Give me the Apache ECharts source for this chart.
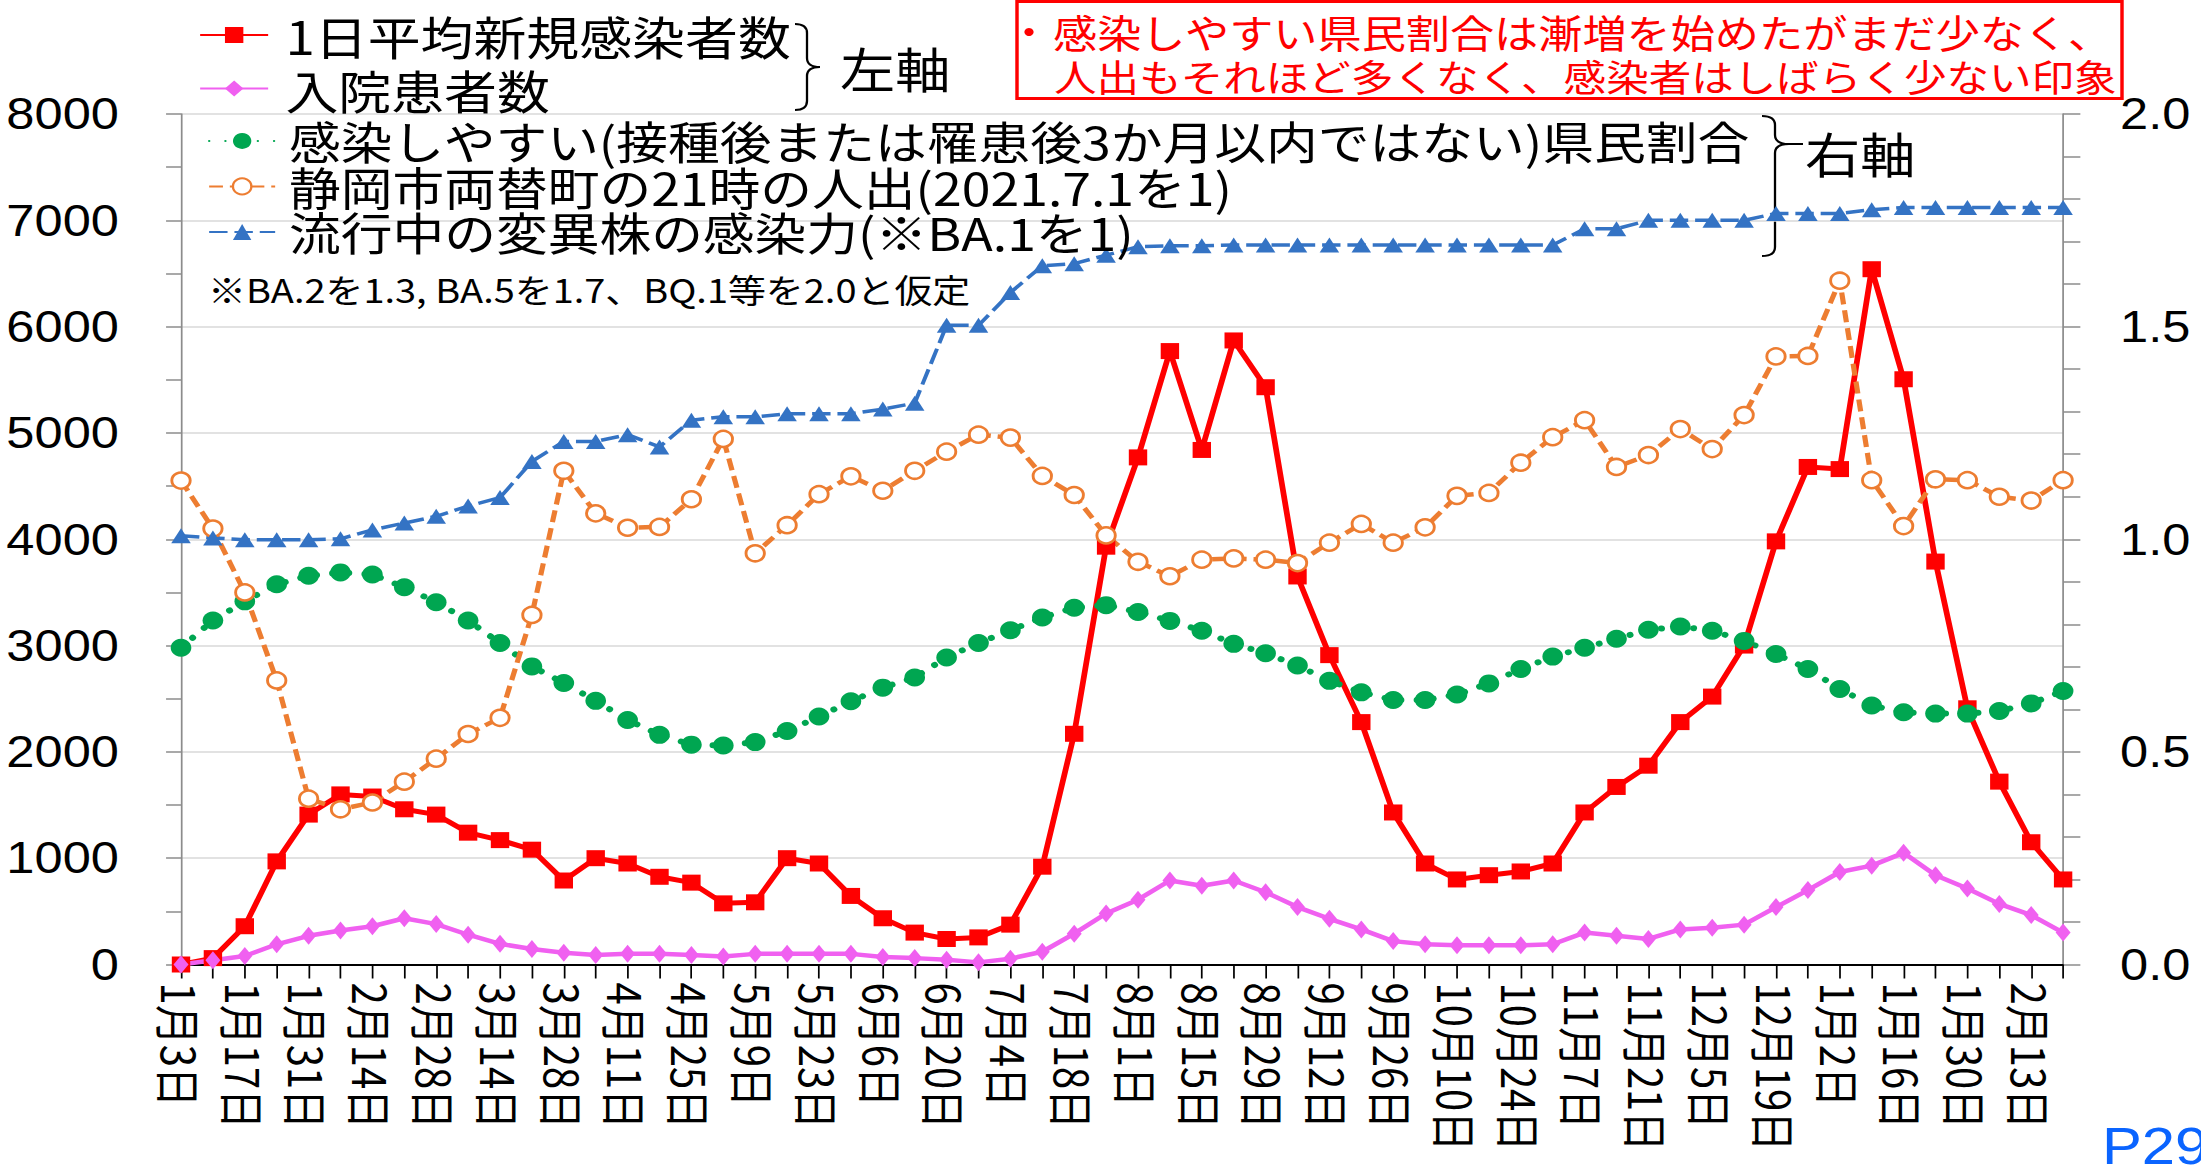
<!DOCTYPE html>
<html>
<head>
<meta charset="utf-8">
<script src="https://cdn.jsdelivr.net/npm/echarts@6/dist/echarts.min.js"></script>
<style>
html, body { margin: 0; padding: 0; background: #fff; overflow: hidden; }
/* the source picture is stretched a little horizontally, so the chart is drawn narrower and scaled */
#chart { width: 1914px; height: 1168px; transform: scaleX(1.15); transform-origin: 0 0; }
</style>
</head>
<body>
<div id="chart"></div>
<script>
const SX = 1.15

const weeks = [
  '1月3日','1月10日','1月17日','1月24日','1月31日','2月7日','2月14日','2月21日','2月28日','3月7日',
  '3月14日','3月21日','3月28日','4月4日','4月11日','4月18日','4月25日','5月2日','5月9日','5月16日',
  '5月23日','5月30日','6月6日','6月13日','6月20日','6月27日','7月4日','7月11日','7月18日','7月25日',
  '8月1日','8月8日','8月15日','8月22日','8月29日','9月5日','9月12日','9月19日','9月26日','10月3日',
  '10月10日','10月17日','10月24日','10月31日','11月7日','11月14日','11月21日','11月28日','12月5日','12月12日',
  '12月19日','12月26日','1月2日','1月9日','1月16日','1月23日','1月30日','2月6日','2月13日','2月20日'
]

// 左軸
const newCases = [
  0, 60, 360, 970, 1410, 1600, 1580, 1460, 1410, 1240,
  1170, 1080, 790, 1000, 950, 825, 770, 575, 585, 1000,
  950, 645, 435, 300, 240, 255, 375, 920, 2170, 3930,
  4770, 5770, 4840, 5870, 5430, 3650, 2910, 2280, 1430, 950,
  800, 840, 875, 950, 1430, 1670, 1870, 2280, 2520, 3000,
  3980, 4680, 4660, 6540, 5505, 3790, 2410, 1720, 1150, 800
]
const hospitalized = [
  0, 40, 80, 190, 270, 320, 360, 435, 380, 280,
  195, 145, 110, 90, 100, 100, 90, 75, 100, 100,
  100, 100, 70, 60, 45, 20, 55, 120, 290, 480,
  610, 790, 740, 790, 680, 540, 430, 330, 220, 190,
  180, 180, 180, 190, 300, 270, 240, 330, 345, 375,
  540, 700, 870, 930, 1050, 840, 715, 570, 465, 300
]

// 右軸
const susceptible = [
  0.745, 0.809, 0.854, 0.894, 0.914, 0.922, 0.917, 0.887, 0.852, 0.809,
  0.756, 0.701, 0.662, 0.620, 0.575, 0.540, 0.517, 0.515, 0.523, 0.549,
  0.583, 0.619, 0.651, 0.675, 0.722, 0.756, 0.786, 0.816, 0.839, 0.845,
  0.829, 0.808, 0.785, 0.754, 0.732, 0.703, 0.667, 0.640, 0.622, 0.622,
  0.635, 0.661, 0.695, 0.724, 0.745, 0.766, 0.787, 0.795, 0.785, 0.761,
  0.730, 0.695, 0.648, 0.609, 0.593, 0.590, 0.590, 0.596, 0.614, 0.643
]
const crowd = [
  1.138, 1.025, 0.875, 0.668, 0.390, 0.365, 0.381, 0.430, 0.484, 0.542,
  0.580, 0.822, 1.161, 1.061, 1.027, 1.029, 1.094, 1.236, 0.967, 1.033,
  1.106, 1.148, 1.114, 1.161, 1.206, 1.246, 1.239, 1.149, 1.104, 1.009,
  0.947, 0.913, 0.952, 0.955, 0.952, 0.944, 0.992, 1.036, 0.992, 1.028,
  1.102, 1.109, 1.180, 1.240, 1.280, 1.170, 1.198, 1.259, 1.212, 1.292,
  1.430, 1.431, 1.608, 1.139, 1.031, 1.141, 1.139, 1.100, 1.091, 1.139
]
const variant = [
  1.008, 1.003, 0.999, 0.999, 0.999, 1.001, 1.022, 1.038, 1.054, 1.078,
  1.098, 1.183, 1.230, 1.230, 1.246, 1.217, 1.280, 1.288, 1.288, 1.295,
  1.295, 1.295, 1.306, 1.320, 1.503, 1.503, 1.580, 1.643, 1.648, 1.668,
  1.688, 1.690, 1.690, 1.692, 1.692, 1.692, 1.692, 1.692, 1.692, 1.692,
  1.692, 1.692, 1.692, 1.692, 1.730, 1.730, 1.750, 1.750, 1.750, 1.750,
  1.766, 1.766, 1.766, 1.775, 1.780, 1.780, 1.780, 1.780, 1.780, 1.780
]

const names = {
  cases: '1日平均新規感染者数',
  hosp: '入院患者数',
  susc: '感染しやすい(接種後または罹患後3か月以内ではない)県民割合',
  crowd: '静岡市両替町の21時の人出(2021.7.1を1)',
  variant: '流行中の変異株の感染力(※BA.1を1)'
}

const RED = '#ff0000'
const PINK = '#f060f0'
const GREEN = '#00a651'
const ORANGE = '#ed7d31'
const BLUE = '#3473c4'
const JP = 'Noto Sans CJK JP'

// x positions below are measured on the final (stretched) picture
const fx = v => v / SX

// curly brace "}" made of curves and lines
function brace(xh, xs, xt, top, tip, bottom, tail) {
  const r = 9
  const st = { fill: 'none', stroke: '#000', lineWidth: 2 }
  const curve = (x1, y1, cx, cy, x2, y2) => ({
    type: 'bezierCurve', silent: true,
    shape: { x1: fx(x1), y1, cpx1: fx(cx), cpy1: cy, x2: fx(x2), y2 }, style: st
  })
  const line = (x1, y1, x2, y2) => ({
    type: 'line', silent: true,
    shape: { x1: fx(x1), y1, x2: fx(x2), y2 }, style: st
  })
  const out = [
    curve(xh, top, xs, top, xs, top + r),
    line(xs, top + r, xs, tip - r),
    curve(xs, tip - r, xs, tip, xt, tip),
    curve(xt, tip, xs, tip, xs, tip + r),
    line(xs, tip + r, xs, bottom - r),
    curve(xs, bottom - r, xs, bottom, xh, bottom)
  ]
  if (tail) out.push(line(xt, tip, tail, tip))
  return out
}

function lineSeries(name, data, axis, symbol, size, color, width, type, extra) {
  return Object.assign({
    name,
    type: 'line',
    yAxisIndex: axis,
    data,
    symbol,
    symbolSize: size,
    showSymbol: true,
    showAllSymbol: true,
    silent: true,
    lineStyle: { color, width, type },
    itemStyle: { color },
    emphasis: { disabled: true }
  }, extra || {})
}

const chart = echarts.init(document.getElementById('chart'), null, { renderer: 'svg' })

const axisGray = '#8c8c8c'

chart.setOption({
  animation: false,
  backgroundColor: '#fff',
  grid: { left: 157.4, right: 120, top: 114, bottom: 203.5, containLabel: false },
  legend: [
    {
      data: [names.cases, names.hosp],
      orient: 'vertical',
      left: fx(199), top: 9, padding: 0,
      itemWidth: fx(267) - fx(199), itemHeight: 20, itemGap: 1.5,
      selectedMode: false,
      textStyle: { fontSize: 46, lineHeight: 52, color: '#000', fontFamily: JP, padding: [0, 0, 0, 10] }
    },
    {
      data: [names.susc, names.crowd, names.variant],
      orient: 'vertical',
      left: fx(208), top: 118.4, padding: 0,
      itemWidth: fx(274) - fx(208), itemHeight: 20, itemGap: 0.5,
      selectedMode: false,
      textStyle: { fontSize: 45, lineHeight: 44, color: '#000', fontFamily: JP, padding: [0, 0, 0, 7] }
    }
  ],
  xAxis: {
    type: 'category',
    data: weeks,
    boundaryGap: false,
    axisLine: { lineStyle: { color: '#000', width: 2 } },
    axisTick: { show: true, interval: 0, length: 14, lineStyle: { color: '#000', width: 1.5 } },
    axisLabel: { interval: 1, rotate: -90, fontSize: 40, margin: 18, color: '#000', fontFamily: JP }
  },
  yAxis: [
    {
      type: 'value', position: 'left',
      min: 0, max: 8000, interval: 1000,
      axisLine: { show: true, lineStyle: { color: axisGray, width: 1.5 } },
      axisTick: { show: true, length: 13, lineStyle: { color: axisGray, width: 1.5 } },
      minorTick: { show: true, splitNumber: 2, length: 13, lineStyle: { color: axisGray, width: 1.5 } },
      axisLabel: { margin: 54, fontSize: 44, color: '#000', fontFamily: 'Liberation Sans', formatter: v => String(v) },
      splitLine: { show: true, lineStyle: { color: '#d9d9d9', width: 1.5 } }
    },
    {
      type: 'value', position: 'right',
      min: 0, max: 2, interval: 0.5,
      axisLine: { show: true, lineStyle: { color: axisGray, width: 1.5 } },
      axisTick: { show: true, length: 15, lineStyle: { color: axisGray, width: 1.5 } },
      minorTick: { show: true, splitNumber: 5, length: 15, lineStyle: { color: axisGray, width: 1.5 } },
      axisLabel: { margin: 49.5, fontSize: 44, color: '#000', fontFamily: 'Liberation Sans', formatter: v => v.toFixed(1) },
      splitLine: { show: false }
    }
  ],
  series: [
    lineSeries(names.cases, newCases, 0, 'rect', 16, RED, 5, 'solid'),
    lineSeries(names.hosp, hospitalized, 0, 'diamond', [13, 18], PINK, 4.5, 'solid'),
    lineSeries(names.susc, susceptible, 1, 'circle', 18, GREEN, 6, [0.1, 14], {
      lineStyle: { color: GREEN, width: 6, type: [0.1, 14], cap: 'round' }
    }),
    lineSeries(names.crowd, crowd, 1, 'circle', 16, ORANGE, 4.5, [12, 6], {
      itemStyle: { color: '#fff', borderColor: ORANGE, borderWidth: 2.5 }
    }),
    lineSeries(names.variant, variant, 1, 'triangle', [17, 15], BLUE, 3.5, [16, 6])
  ],
  graphic: [
    {
      type: 'rect', silent: true,
      shape: { x: fx(1017), y: 1.5, width: fx(2122) - fx(1017), height: 97 },
      style: { fill: 'none', stroke: RED, lineWidth: 3 }
    },
    {
      type: 'circle', silent: true,
      shape: { cx: fx(1029), cy: 32, r: 4 },
      style: { fill: RED }
    },
    {
      type: 'text', x: fx(1053), y: 31,
      style: { text: '感染しやすい県民割合は漸増を始めたがまだ少なく、', fontSize: 38.4, fontFamily: JP, fill: RED, verticalAlign: 'middle' }
    },
    {
      type: 'text', x: fx(1054), y: 76,
      style: { text: '人出もそれほど多くなく、感染者はしばらく少ない印象', fontSize: 37, fontFamily: JP, fill: RED, verticalAlign: 'middle' }
    },
    ...brace(795, 807, 820, 24, 67, 110),
    {
      type: 'text', x: fx(840), y: 67,
      style: { text: '左軸', fontSize: 48, fontFamily: JP, fill: '#000', verticalAlign: 'middle' }
    },
    ...brace(1762, 1775, 1789, 116, 144, 256, 1803),
    {
      type: 'text', x: fx(1805), y: 152,
      style: { text: '右軸', fontSize: 48, fontFamily: JP, fill: '#000', verticalAlign: 'middle' }
    },
    {
      type: 'text', x: fx(208), y: 289,
      style: { text: '※BA.2を1.3, BA.5を1.7、BQ.1等を2.0と仮定', fontSize: 33, fontFamily: JP, fill: '#000', verticalAlign: 'middle' }
    },
    {
      type: 'text', x: fx(2102), y: 1120,
      style: { text: 'P29', fontSize: 52, fontFamily: 'Liberation Sans', fill: '#0a64ff', verticalAlign: 'top' }
    }
  ]
})
</script>
</body>
</html>
